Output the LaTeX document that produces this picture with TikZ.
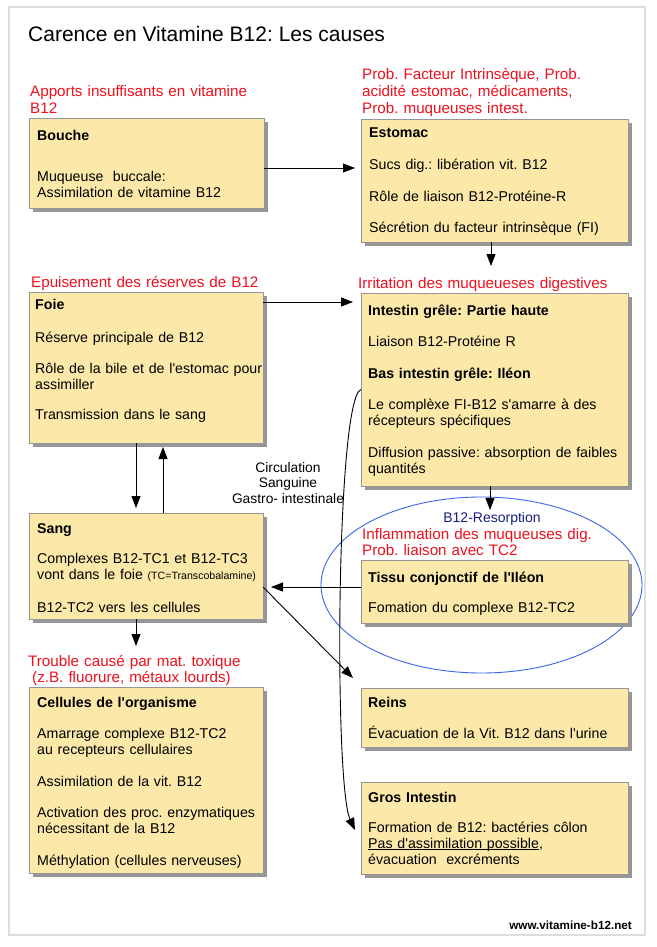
\documentclass[tikz,border=0pt]{standalone}
\usepackage{fontspec}
\setmainfont{Liberation Sans}[Ligatures=TeXOff]
\usetikzlibrary{arrows.meta,shapes.geometric,shadows}
\definecolor{boxfill}{RGB}{252,233,170}
\definecolor{boxline}{RGB}{150,150,150}
\definecolor{shadowc}{RGB}{150,150,150}
\definecolor{labred}{RGB}{240,16,30}
\definecolor{ellblue}{RGB}{60,100,230}
\definecolor{navyt}{RGB}{20,30,130}
\definecolor{framec}{RGB}{222,222,222}
\newsavebox{\ulboxx}
\newcommand{\ulinetxt}[1]{\leavevmode\sbox{\ulboxx}{#1}\rlap{\rule[-1.8pt]{\wd\ulboxx}{0.6pt}}\usebox{\ulboxx}}
\frenchspacing
\begin{document}
\frenchspacing
\begin{tikzpicture}[x=1pt,y=-1pt,
  yellowbox/.style={draw=boxline, fill=boxfill, line width=0.8pt, anchor=north west, inner sep=0pt, outer sep=0pt,
    drop shadow={shadow xshift=4pt, shadow yshift=-4pt, fill=shadowc, opacity=1}},
  bodytxt/.style={anchor=base west, inner sep=0pt, text width=258pt, align=left, font=\fontsize{14.2}{16}\selectfont\frenchspacing},
  redlab/.style={anchor=base west, inner sep=0pt, text width=300pt, align=left, text=labred, font=\fontsize{15.2}{16.8}\selectfont\frenchspacing},
  arr/.style={draw=black, line width=0.9pt, -{Triangle[length=12pt,width=9pt]}},
]
\useasboundingbox[fill=white] (0,0) rectangle (656,947);
\draw[draw=framec, line width=2pt] (9,7) rectangle (645,935);

% title
\node[anchor=base west, inner sep=0pt, font=\fontsize{21}{25}\selectfont\frenchspacing] (title) at (28,42) {Carence en Vitamine B12: Les causes};

% ellipse
\node[draw=ellblue, line width=0.9pt, ellipse, minimum width=321pt, minimum height=176pt, inner sep=0pt] (resorp) at (481.5,585) {};

% boxes
\node[yellowbox, minimum width=235pt, minimum height=90pt] (bouche) at (29,118) {};
\node[yellowbox, minimum width=267pt, minimum height=123pt] (estomac) at (361,119) {};
\node[yellowbox, minimum width=234pt, minimum height=151pt] (foie) at (29,292) {};
\node[yellowbox, minimum width=267pt, minimum height=193pt] (intestin) at (361,293) {};
\node[yellowbox, minimum width=234pt, minimum height=106pt] (sang) at (29,513) {};
\node[yellowbox, minimum width=267pt, minimum height=63pt] (tissu) at (361,560) {};
\node[yellowbox, minimum width=267pt, minimum height=59pt] (reins) at (361,688) {};
\node[yellowbox, minimum width=267pt, minimum height=92pt] (gros) at (361,782) {};
\node[yellowbox, minimum width=234pt, minimum height=186pt] (cellules) at (29,687) {};

% box texts
\node[bodytxt] (bouchet) at (37,140) {{\bfseries Bouche}\\[25pt]Muqueuse\ \ buccale:\\Assimilation de vitamine B12};
\node[bodytxt] (estomact) at (369,138) {{\bfseries Estomac}\\[15.5pt]Sucs dig.: libération vit. B12\\[15.5pt]Rôle de liaison B12-Protéine-R\\[15.5pt]Sécrétion du facteur intrinsèque (FI)};
\node[bodytxt] (foiet) at (35,309) {{\bfseries Foie}\\[17pt]Réserve principale de B12\\[15pt]Rôle de la bile et de l'estomac pour\\assimiller\\[14pt]Transmission dans le sang};
\node[bodytxt] (intestint) at (368,315) {{\bfseries Intestin grêle: Partie haute}\\[15.5pt]Liaison B12-Protéine R\\[15.5pt]{\bfseries Bas intestin grêle: Iléon}\\[15.5pt]Le complèxe FI-B12 s'amarre à des\\récepteurs spécifiques\\[15.5pt]Diffusion passive: absorption de faibles\\quantités};
\node[bodytxt] (sangt) at (37,533) {{\bfseries Sang}\\[14pt]Complexes B12-TC1 et B12-TC3\\vont dans le foie {\fontsize{10.6}{12}\selectfont (TC=Transcobalamine)}\\[17pt]B12-TC2 vers les cellules};
\node[bodytxt] (tissut) at (368,582) {{\bfseries Tissu conjonctif de l'Iléon}\\[14pt]Fomation du complexe B12-TC2};
\node[bodytxt] (reinst) at (368,707) {{\bfseries Reins}\\[15pt]Évacuation de la Vit. B12 dans l'urine};
\node[bodytxt] (grost) at (368,802) {{\bfseries Gros Intestin}\\[14pt]Formation de B12: bactéries côlon\\\ulinetxt{Pas d'assimilation possible},\\évacuation\ \ excréments};
\node[bodytxt] (cellulest) at (37,707) {{\bfseries Cellules de l'organisme}\\[15pt]Amarrage complexe B12-TC2\\au recepteurs cellulaires\\[16pt]Assimilation de la vit. B12\\[15pt]Activation des proc. enzymatiques\\nécessitant de la B12\\[16pt]Méthylation (cellules nerveuses)};

% red labels
\node[redlab] (apports) at (30,97) {Apports insuffisants en vitamine\\B12};
\node[redlab] (probfi) at (362,80) {Prob. Facteur Intrinsèque, Prob.\\acidité estomac, médicaments,\\Prob. muqueuses intest.};
\node[redlab] (irrit) at (358,288) {Irritation des muqueueses digestives};
\node[redlab] (epuis) at (31,287) {Epuisement des réserves de B12};
\node[redlab] (inflam) at (362,539) {Inflammation des muqueuses dig.\\Prob. liaison avec TC2};
\node[redlab] (trouble) at (28,666) {Trouble causé par mat. toxique\\\hspace*{4pt}(z.B. fluorure, métaux lourds)};

% other labels
\node[inner sep=0pt, align=center, font=\fontsize{13.8}{15.5}\selectfont] (circ) at (288,483) {Circulation\\Sanguine\\Gastro- intestinale};
\node[inner sep=0pt, text=navyt, font=\fontsize{14}{16}\selectfont] (resorpt) at (492,518.5) {B12-Resorption};
\node[anchor=base east, inner sep=0pt, font=\bfseries\fontsize{11.7}{14}\selectfont] (web) at (632,929) {www.vitamine-b12.net};

% connector coordinates
\coordinate (b1) at ([yshift=-5pt]bouche.east);
\coordinate (e2) at (491,266);
\coordinate (f1) at ([yshift=-10pt]foie.north east);
\coordinate (i2) at (490,510);
\coordinate (s1) at (136,0);
\coordinate (s2) at (163,0);
\coordinate (t1) at ([yshift=4.5pt]tissu.west);
\coordinate (c1) at (136,646);
\coordinate (s3) at ([yshift=-21pt]sang.east);
\coordinate (r1) at (353,678);
\coordinate (g1) at (355,830);

% connectors
\draw[arr, shorten >=6pt] (b1) -- (b1 -| estomac.west);
\draw[arr] (estomac.south -| e2) -- (e2);
\draw[arr, shorten >=8pt] (f1) -- (f1 -| intestin.west);
\draw[arr] (intestin.south -| i2) -- (i2);
\draw[arr, shorten >=5pt] (foie.south -| s1) -- (sang.north -| s1);
\draw[arr, shorten >=4pt] (sang.north -| s2) -- (foie.south -| s2);
\draw[arr, shorten >=8pt] (t1) -- (t1 -| sang.east);
\draw[arr] (sang.south -| c1) -- (c1);
\draw[arr] (s3) -- (r1);
\draw[arr] (intestin.west) .. controls (336,398) and (334,785) .. (g1);
\end{tikzpicture}
\end{document}
